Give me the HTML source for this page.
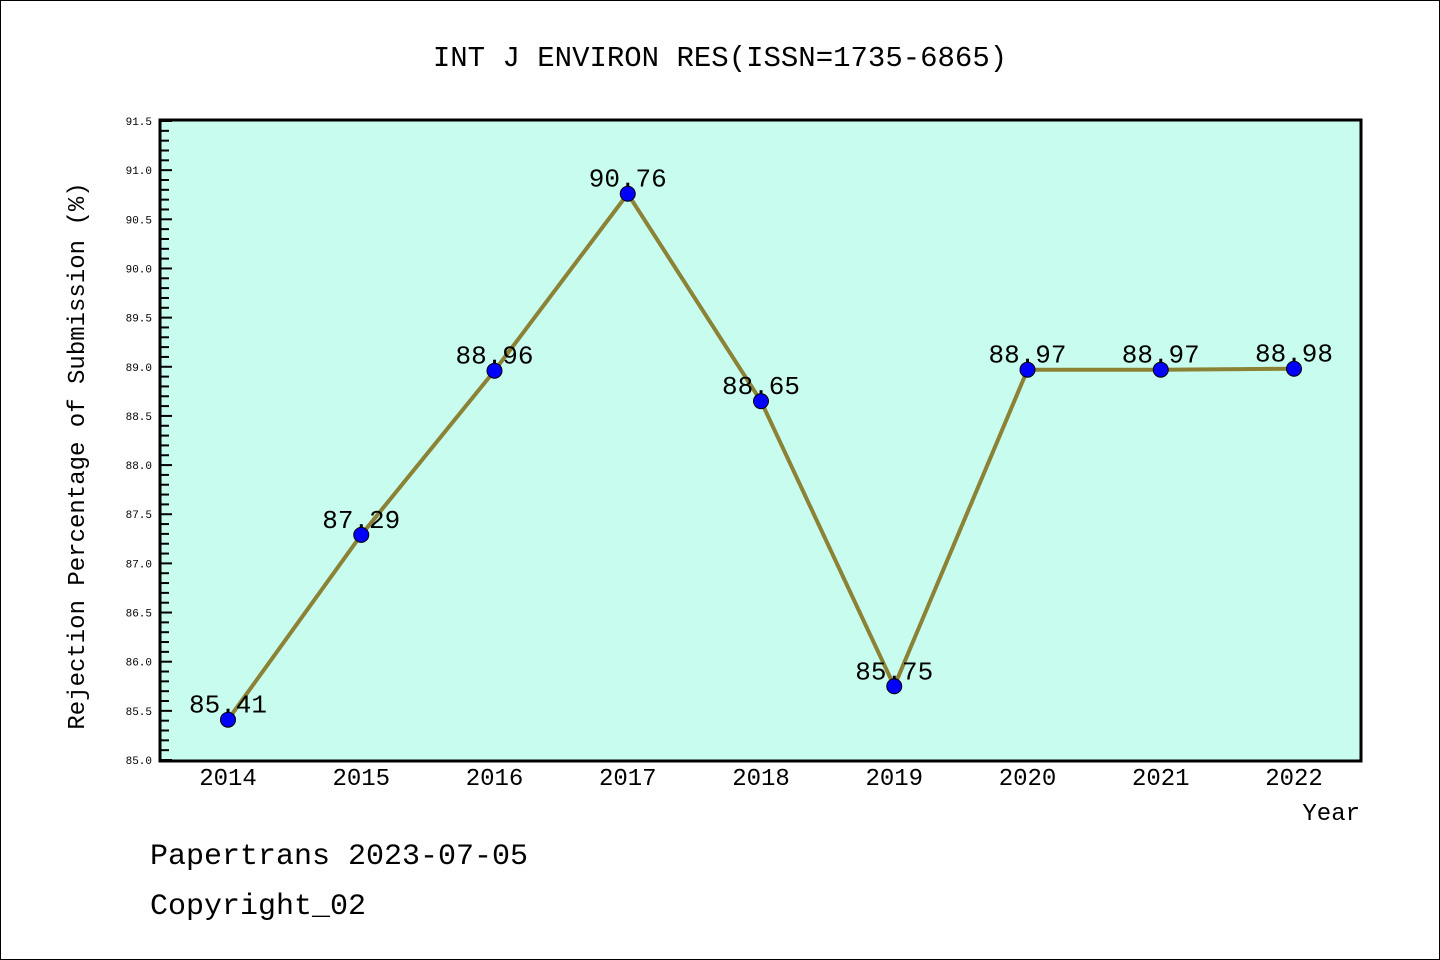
<!DOCTYPE html>
<html><head><meta charset="utf-8"><style>
html,body{margin:0;padding:0;background:#fff}
svg{display:block}
text{font-family:"Liberation Mono","WenQuanYi Zen Hei",monospace;fill:#000}
</style></head><body>
<svg id="chart" width="1440" height="960" xmlns="http://www.w3.org/2000/svg">
<rect x="0.5" y="0.5" width="1439" height="959" fill="#fff" stroke="#000"/>
<text x="720" y="66" font-size="29" text-anchor="middle">INT J ENVIRON RES(ISSN=1735-6865)</text>
<rect x="160" y="120" width="1201" height="641" fill="#c8fcee"/>
<g id="yaxis"></g>
<g id="xaxis"></g>
<g id="series"></g>
<rect x="160" y="120" width="1201" height="641" fill="none" stroke="#000" stroke-width="3"/>
<text x="84" y="456" font-size="24" text-anchor="middle" transform="rotate(-90 84 456)">Rejection Percentage of Submission (%)</text>
<text x="1360" y="820" font-size="24" text-anchor="end">Year</text>
<text x="150" y="864" font-size="30">Papertrans 2023-07-05</text>
<text x="150" y="914" font-size="30">Copyright_02</text>
</svg>
<script>
const categories=["2014","2015","2016","2017","2018","2019","2020","2021","2022"];
const values=[85.41,87.29,88.96,90.76,88.65,85.75,88.97,88.97,88.98];
const yTicks=["85.0","85.5","86.0","86.5","87.0","87.5","88.0","88.5","89.0","89.5","90.0","90.5","91.0","91.5"];
const NS="http://www.w3.org/2000/svg";
const yMin=85,yMax=91.5,yTopPx=121,yBotPx=760;
function ys(v){return yBotPx-(v-yMin)/(yMax-yMin)*(yBotPx-yTopPx);}
function xs(i){return 228+i*(1294-228)/(categories.length-1);}
function mk(t,a,p){const e=document.createElementNS(NS,t);for(const k in a)e.setAttribute(k,a[k]);p.appendChild(e);return e;}
const ya=document.getElementById('yaxis'),xa=document.getElementById('xaxis'),sg=document.getElementById('series');
for(let k=0;k<=65;k++){const v=85+k*0.1;const y=ys(v);const major=k%5===0;
 const l=mk('line',{x1:160,x2:major?172:169,y1:y,y2:y,stroke:'#000','stroke-width':2},ya);
 
 }
yTicks.forEach(s=>{const t=mk('text',{x:152,y:ys(parseFloat(s))+4,'font-size':11,'text-anchor':'end'},ya);t.textContent=s;
 
 });
categories.forEach((c,i)=>{const t=mk('text',{x:xs(i),y:785,'font-size':24,'text-anchor':'middle'},xa);t.textContent=c;
 
 });
const pts=values.map((v,i)=>xs(i)+','+ys(v)).join(' ');
const pl=mk('polyline',{points:pts,fill:'none',stroke:'#8b8236','stroke-width':4},sg);


values.forEach((v,i)=>{const c=mk('circle',{cx:xs(i),cy:ys(v),r:7.5,fill:'#0000ff',stroke:'#000','stroke-width':1},sg);
 
 
 const t=mk('text',{x:xs(i),y:ys(v)-7,'font-size':26,'text-anchor':'middle'},sg);t.textContent=v.toFixed(2);
 
 });
</script>
</body></html>
